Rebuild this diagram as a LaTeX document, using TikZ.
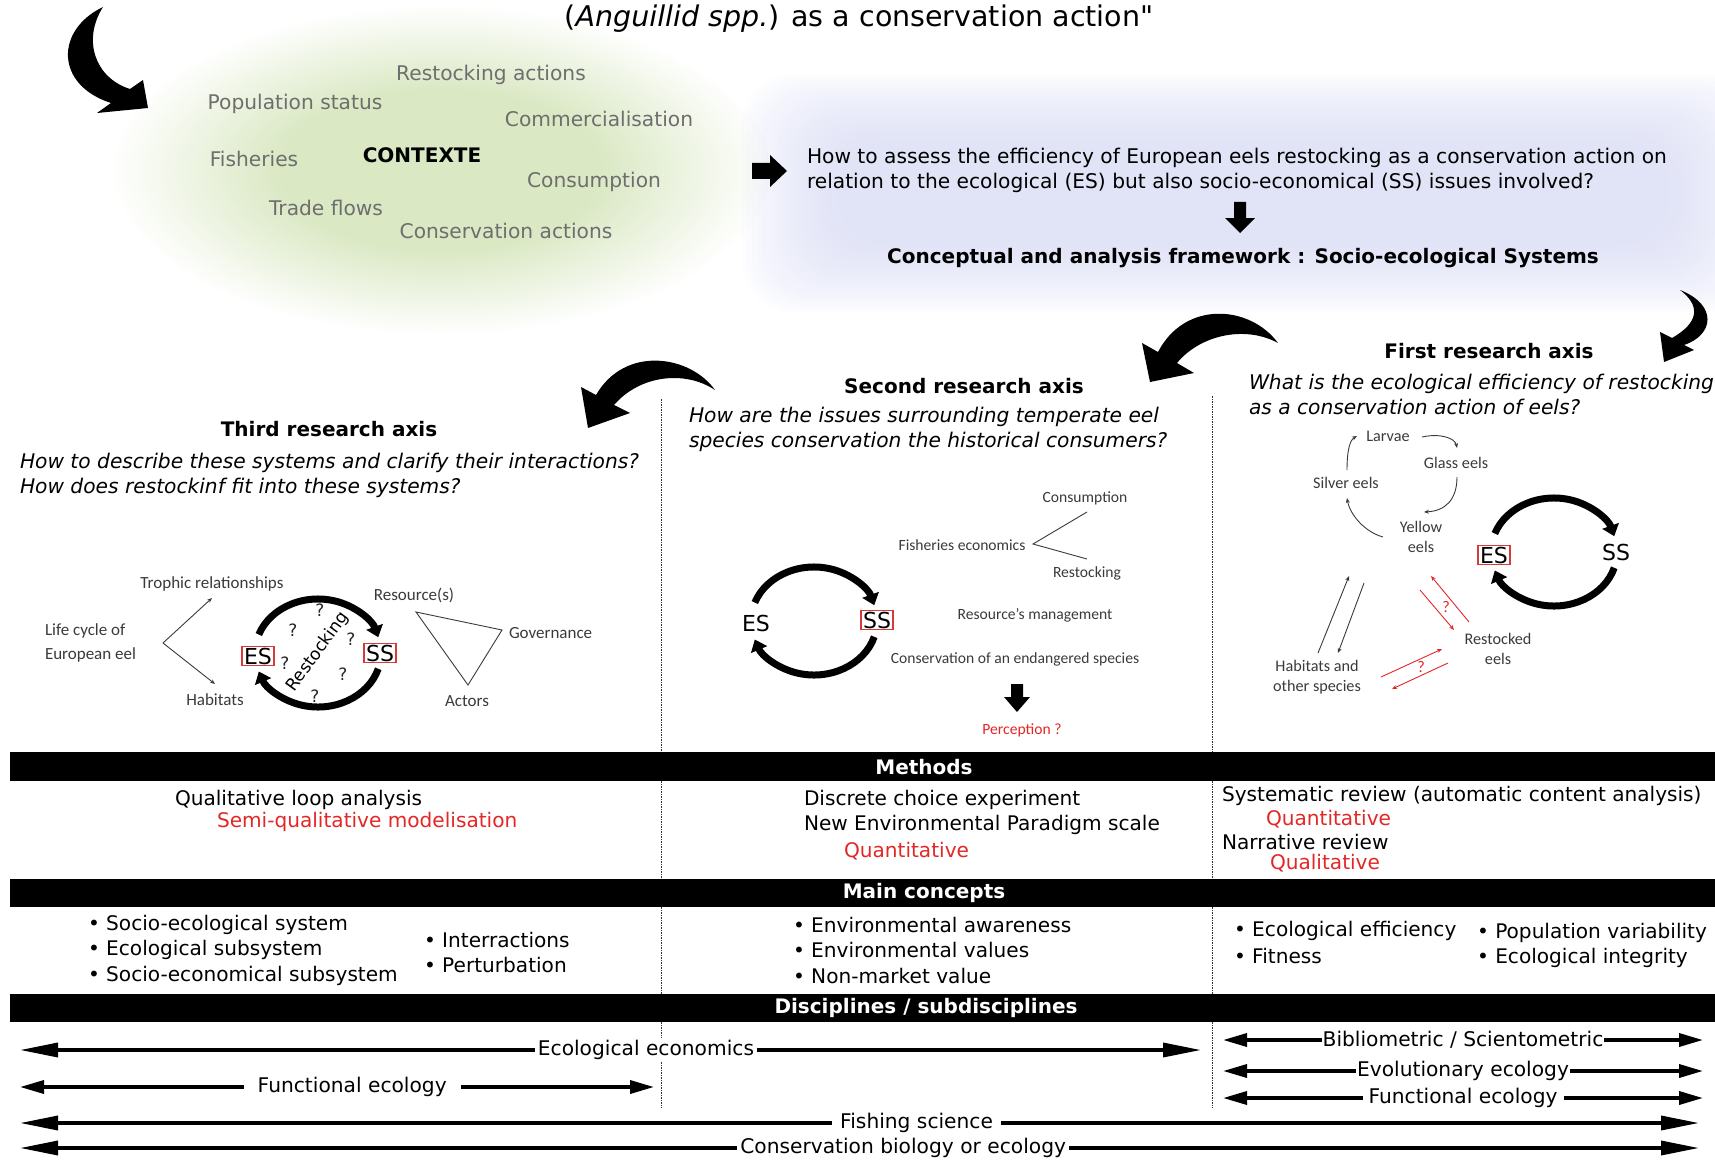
\documentclass[tikz,border=0pt]{standalone}
\usepackage{fontspec}
\setmainfont{DejaVu Sans}[Ligatures=TeXOff]
\newfontfamily\carl{Carlito}
\usetikzlibrary{arrows.meta}
\definecolor{ctxgray}{HTML}{6E6E6E}
\definecolor{boxred}{HTML}{D83A3A}
\definecolor{txtred}{HTML}{E32626}
\definecolor{greenc}{HTML}{DAE8C3}
\definecolor{bluec}{HTML}{D3D7F3}
\definecolor{lblgray}{HTML}{3A3A3A}
\pgfdeclareradialshading{greencloud}{\pgfpoint{0bp}{0bp}}{color(0bp)=(greenc); color(12bp)=(greenc); color(25bp)=(white); color(50bp)=(white)}
\newcommand\sysloop[2]{%
  \begin{scope}[shift={(#1,#2)}]
    \draw[looparrow] (200:63 and 54) arc[start angle=200,end angle=343,x radius=63,y radius=54];
    \draw[looparrow] (17:63 and 54) arc[start angle=17,end angle=160,x radius=63,y radius=54];
  \end{scope}}
\begin{document}
\begin{tikzpicture}[x=1pt,y=-1pt,
  every node/.style={inner sep=0pt, outer sep=0pt},
  ctx/.style={font=\fontsize{20.2}{24}\selectfont, text=ctxgray},
  qtext/.style={font=\fontsize{20.2}{25}\selectfont\itshape, align=left, anchor=west},
  axtitle/.style={font=\fontsize{20}{24}\selectfont\bfseries},
  lbl/.style={font=\carl\fontsize{15.6}{20}\selectfont, text=lblgray, align=center},
  lblb/.style={font=\carl\fontsize{17}{20}\selectfont, text=lblgray, align=center},
  lblc/.style={font=\carl\fontsize{16.2}{20}\selectfont, text=lblgray, align=center},
  body/.style={font=\fontsize{20.1}{24}\selectfont, anchor=west},
  redt/.style={text=txtred},
  bartext/.style={font=\fontsize{20}{24}\selectfont\bfseries, text=white},
  sep/.style={draw=black!80, line width=0.8pt, dash pattern=on 1.5pt off 1pt},
  darrow/.style={line width=3.5pt, {Triangle[length=38pt,width=14pt]}-{Triangle[length=38pt,width=14pt]}},
  sarrow/.style={line width=3.5pt, {Triangle[length=24pt,width=13pt]}-{Triangle[length=24pt,width=13pt]}},
  dlab/.style={fill=white, inner xsep=3pt, inner ysep=2pt, font=\fontsize{20.2}{24}\selectfont},
  looparrow/.style={line width=7pt, -{Triangle[length=11pt,width=17pt]}},
  esbox/.style={draw=boxred, line width=1.3pt, inner xsep=2pt, inner ysep=1.5pt, font=\fontsize{22}{24}\selectfont},
  esplain/.style={inner sep=2pt, font=\fontsize{22}{24}\selectfont},
  qm/.style={font=\fontsize{17}{19}\selectfont, text=black!85},
  thinline/.style={draw=lblgray, line width=0.9pt},
  thinar/.style={draw=lblgray, line width=0.9pt, -{Stealth[length=5pt,width=4pt]}},
  redar/.style={draw=txtred, line width=0.9pt, -{Stealth[length=5pt,width=4pt]}},
]
\clip (0,0) rectangle (1715,1161);
% clouds
\shade[shading=greencloud] (440,170) ellipse [x radius=330, y radius=165];
\foreach \i in {0,...,19}
  \fill[bluec, opacity=0.055, rounded corners=50pt] (742+5*\i,74+3.5*\i) rectangle (1765-5*\i,312-3.5*\i);

% title
\node[font=\fontsize{28.5}{32}\selectfont] (title) at (859,19) {(\textit{Anguillid spp.}) as a conservation action"};

% big curved arrows
\fill (103,7) .. controls (55,30) and (55,85) .. (111,103) -- (97,113) -- (148,108) -- (143,80) -- (130,89) .. controls (95,78) and (82,40) .. (103,7) -- cycle;
\fill (1680,290) .. controls (1718,305) and (1714,335) .. (1684,345) -- (1694,350) -- (1664,362) -- (1660,332) -- (1672,338) .. controls (1700,322) and (1700,305) .. (1680,290) -- cycle;
\fill (1278,343) .. controls (1250,305) and (1185,300) .. (1158,352) -- (1142,343) -- (1150,382) -- (1194,373) -- (1177,363) .. controls (1200,335) and (1245,325) .. (1278,343) -- cycle;
\fill (715,390) .. controls (690,355) and (625,345) .. (596,395) -- (581,387) -- (588,428) -- (630,413) -- (614,405) .. controls (640,375) and (685,370) .. (715,390) -- cycle;

% context
\node[ctx] (c-rest) at (491,75) {Restocking actions};
\node[ctx] (c-pop) at (295,104) {Population status};
\node[ctx] (c-comm) at (599,119) {Commercialisation};
\node[ctx] (c-fish) at (254,159) {Fisheries};
\node[font=\fontsize{20}{24}\selectfont\bfseries] (c-main) at (422,155) {CONTEXTE};
\node[ctx] (c-cons) at (594,182) {Consumption};
\node[ctx] (c-trade) at (326,208) {Trade flows};
\node[ctx] (c-consact) at (506,231) {Conservation actions};

% block arrows top
\fill (752,163) -- (770,163) -- (770,155) -- (787,171) -- (770,187) -- (770,179) -- (752,179) -- cycle;
\node[font=\fontsize{20.2}{25}\selectfont, align=left, anchor=west] (question) at (807,170.5) {How to assess the efficiency of European eels restocking as a conservation action on\\relation to the ecological (ES) but also socio-economical (SS) issues involved?};
\fill (1234,202) -- (1246,202) -- (1246,218) -- (1255,218) -- (1240,233) -- (1225,218) -- (1234,218) -- cycle;
\node[axtitle] (framework) at (1243,258) {Conceptual and analysis framework : Socio-ecological Systems};

% axis titles and questions
\node[axtitle] (ax1) at (1489,351) {First research axis};
\node[axtitle] (ax2) at (964,386) {Second research axis};
\node[axtitle] (ax3) at (329,429) {Third research axis};
\node[qtext] (q1) at (1249,394.5) {What is the ecological efficiency of restocking\\as a conservation action of eels?};
\node[qtext] (q2) at (689,429.5) {How are the issues surrounding temperate eel\\species conservation the historical consumers?};
\node[qtext] (q3) at (20,475.5) {How to describe these systems and clarify their interactions?\\How does restockinf fit into these systems?};

% separators
\foreach \sx/\sy in {661/399, 1212/396}{
  \draw[sep] (\sx,\sy) -- (\sx,752);
  \draw[sep] (\sx,781) -- (\sx,879);
  \draw[sep] (\sx,907) -- (\sx,994);
  \draw[sep] (\sx,1022) -- (\sx,1108);
}

% third axis diagram
\node[lblb, align=left, anchor=west, font=\carl\fontsize{17}{24}\selectfont] (life) at (45,643) {Life cycle of\\European eel};
\coordinate (fork3) at (163,643);
\node[lblb] (troph) at (212,584) {Trophic relationships};
\node[lblb] (hab3) at (215,700) {Habitats};
\coordinate (troph-end) at (212,598);
\coordinate (hab-end) at (215,684);
\draw[thinar] (fork3) -- (troph-end);
\draw[thinar] (fork3) -- (hab-end);
\sysloop{318}{653}
\node[esbox] (es3) at (258,656) {ES};
\node[esbox] (ss3) at (380,653) {SS};
\node[font=\fontsize{17}{19}\selectfont, rotate=54] (rest3) at (318,652) {Restocking};
\node[qm] (qa) at (320,610) {?};
\node[qm] (qb) at (293,630) {?};
\node[qm] (qc) at (351,639) {?};
\node[qm] (qd) at (285,663) {?};
\node[qm] (qe) at (343,674) {?};
\node[qm] (qf) at (315,696) {?};
\node[lblb] (res) at (414,595) {Resource(s)};
\coordinate (triA) at (416,612);
\coordinate (triB) at (502,630);
\coordinate (triC) at (468,685);
\draw[thinline] (triA) -- (triB) -- (triC) -- cycle;
\node[lblb, anchor=west] (gov) at (509,633) {Governance};
\node[lblb] (act) at (467,701) {Actors};

% second axis diagram
\sysloop{814}{621}
\node[esplain] (es2) at (756,623) {ES};
\node[esbox] (ss2) at (877,620) {SS};
\node[lbl] (cons2) at (1085,498) {Consumption};
\node[lbl] (fishec) at (962,545) {Fisheries economics};
\node[lbl] (rest2) at (1087,573) {Restocking};
\coordinate (fork2) at (1033,544);
\coordinate (fork2a) at (1087,512);
\coordinate (fork2b) at (1087,559);
\draw[thinline] (fork2a) -- (fork2) -- (fork2b);
\node[lbl] (resman) at (1035,615) {Resource’s management};
\node[lbl] (consend) at (1015,659) {Conservation of an endangered species};
\fill (1011,684) -- (1023,684) -- (1023,697) -- (1030,697) -- (1017,712) -- (1004,697) -- (1011,697) -- cycle;
\node[lbl, text=txtred] (perc) at (1022,730) {Perception ?};

% first axis diagram
\node[lblc] (larvae) at (1388,436) {Larvae};
\node[lblc] (glass) at (1456,463) {Glass eels};
\node[lblc] (silver) at (1346,483) {Silver eels};
\node[lblc] (yellow) at (1421,537) {Yellow\\eels};
\node[lblc] (restocked) at (1498,649) {Restocked\\eels};
\node[lblc] (habit) at (1317,677) {Habitats and\\other species};
\draw[thinar] (1422,437) .. controls (1440,433) and (1455,438) .. (1457,448);
\draw[thinar] (1457,477) .. controls (1457,500) and (1445,511) .. (1424,512);
\draw[thinar] (1383,537) .. controls (1365,532) and (1350,515) .. (1347,498);
\draw[thinar] (1347,470) .. controls (1347,450) and (1350,440) .. (1357,436);
\coordinate (hy1) at (1318,653); \coordinate (hy2) at (1349,576);
\coordinate (yh1) at (1364,583); \coordinate (yh2) at (1338,653);
\draw[thinar] (hy1) -- (hy2);
\draw[thinar] (yh1) -- (yh2);
\coordinate (ry1) at (1469,622); \coordinate (ry2) at (1431,576);
\coordinate (yr1) at (1420,590); \coordinate (yr2) at (1454,630);
\draw[redar] (ry1) -- (ry2);
\draw[redar] (yr1) -- (yr2);
\node[lblc, text=txtred] (qr1) at (1446,607) {?};
\coordinate (hr1) at (1381,677); \coordinate (hr2) at (1442,649);
\coordinate (rh1) at (1448,663); \coordinate (rh2) at (1392,689);
\draw[redar] (hr1) -- (hr2);
\draw[redar] (rh1) -- (rh2);
\node[lblc, text=txtred] (qr2) at (1421,667) {?};
\sysloop{1554}{552}
\node[esbox] (es1) at (1494,555) {ES};
\node[esplain] (ss1) at (1616,552) {SS};

% bars
\fill (10,752) rectangle (1715,781);
\node[bartext] (methods) at (924,767) {Methods};
\fill (10,879) rectangle (1715,907);
\node[bartext] (concepts) at (924,893) {Main concepts};
\fill (10,994) rectangle (1715,1022);
\node[bartext] (disc) at (926,1008) {Disciplines / subdisciplines};

% methods
\node[body] (m1) at (175,800) {Qualitative loop analysis};
\node[body, redt] (m2) at (217,822) {Semi-qualitative modelisation};
\node[body] (m3) at (804,800) {Discrete choice experiment};
\node[body] (m4) at (804,825) {New Environmental Paradigm scale};
\node[body, redt] (m5) at (844,851) {Quantitative};
\node[body] (m6) at (1222,796) {Systematic review (automatic content analysis)};
\node[body, redt] (m7) at (1266,819) {Quantitative};
\node[body] (m8) at (1222,842) {Narrative review};
\node[body, redt] (m9) at (1270,863) {Qualitative};

% main concepts
\node[body] (k1) at (88,925) {• Socio-ecological system};
\node[body] (k2) at (88,950) {• Ecological subsystem};
\node[body] (k3) at (88,976) {• Socio-economical subsystem};
\node[body] (k4) at (424,940) {• Interractions};
\node[body] (k5) at (424,965) {• Perturbation};
\node[body] (k6) at (793,925) {• Environmental awareness};
\node[body] (k7) at (793,950) {• Environmental values};
\node[body] (k8) at (793,976) {• Non-market value};
\node[body] (k9) at (1234,931) {• Ecological efficiency};
\node[body] (k10) at (1234,956) {• Fitness};
\node[body] (k11) at (1477,933) {• Population variability};
\node[body] (k12) at (1477,958) {• Ecological integrity};

% disciplines
\coordinate (ee1) at (20,1050); \coordinate (ee2) at (1201,1050);
\draw[darrow] (ee1) -- (ee2) node[pos=0.53, dlab] (ee) {Ecological economics};
\coordinate (fl1) at (20,1087); \coordinate (fl2) at (654,1087);
\draw[sarrow] (fl1) -- (fl2) node[pos=0.524, dlab, inner xsep=14pt] (fl) {Functional ecology};
\coordinate (bs1) at (1223,1040); \coordinate (bs2) at (1703,1040);
\draw[sarrow] (bs1) -- (bs2) node[pos=0.5, dlab, inner xsep=1pt] (bs) {Bibliometric / Scientometric};
\coordinate (ev1) at (1223,1071); \coordinate (ev2) at (1703,1071);
\draw[sarrow] (ev1) -- (ev2) node[pos=0.5, dlab, inner xsep=1pt] (ev) {Evolutionary ecology};
\coordinate (fr1) at (1223,1098); \coordinate (fr2) at (1703,1098);
\draw[sarrow] (fr1) -- (fr2) node[pos=0.5, dlab, inner xsep=6pt] (fr) {Functional ecology};
\coordinate (fs1) at (20,1123); \coordinate (fs2) at (1699,1123);
\draw[darrow] (fs1) -- (fs2) node[pos=0.534, dlab, inner xsep=8pt] (fs) {Fishing science};
\coordinate (cb1) at (20,1148); \coordinate (cb2) at (1699,1148);
\draw[darrow] (cb1) -- (cb2) node[pos=0.526, dlab] (cb) {Conservation biology or ecology};
\end{tikzpicture}
\end{document}
